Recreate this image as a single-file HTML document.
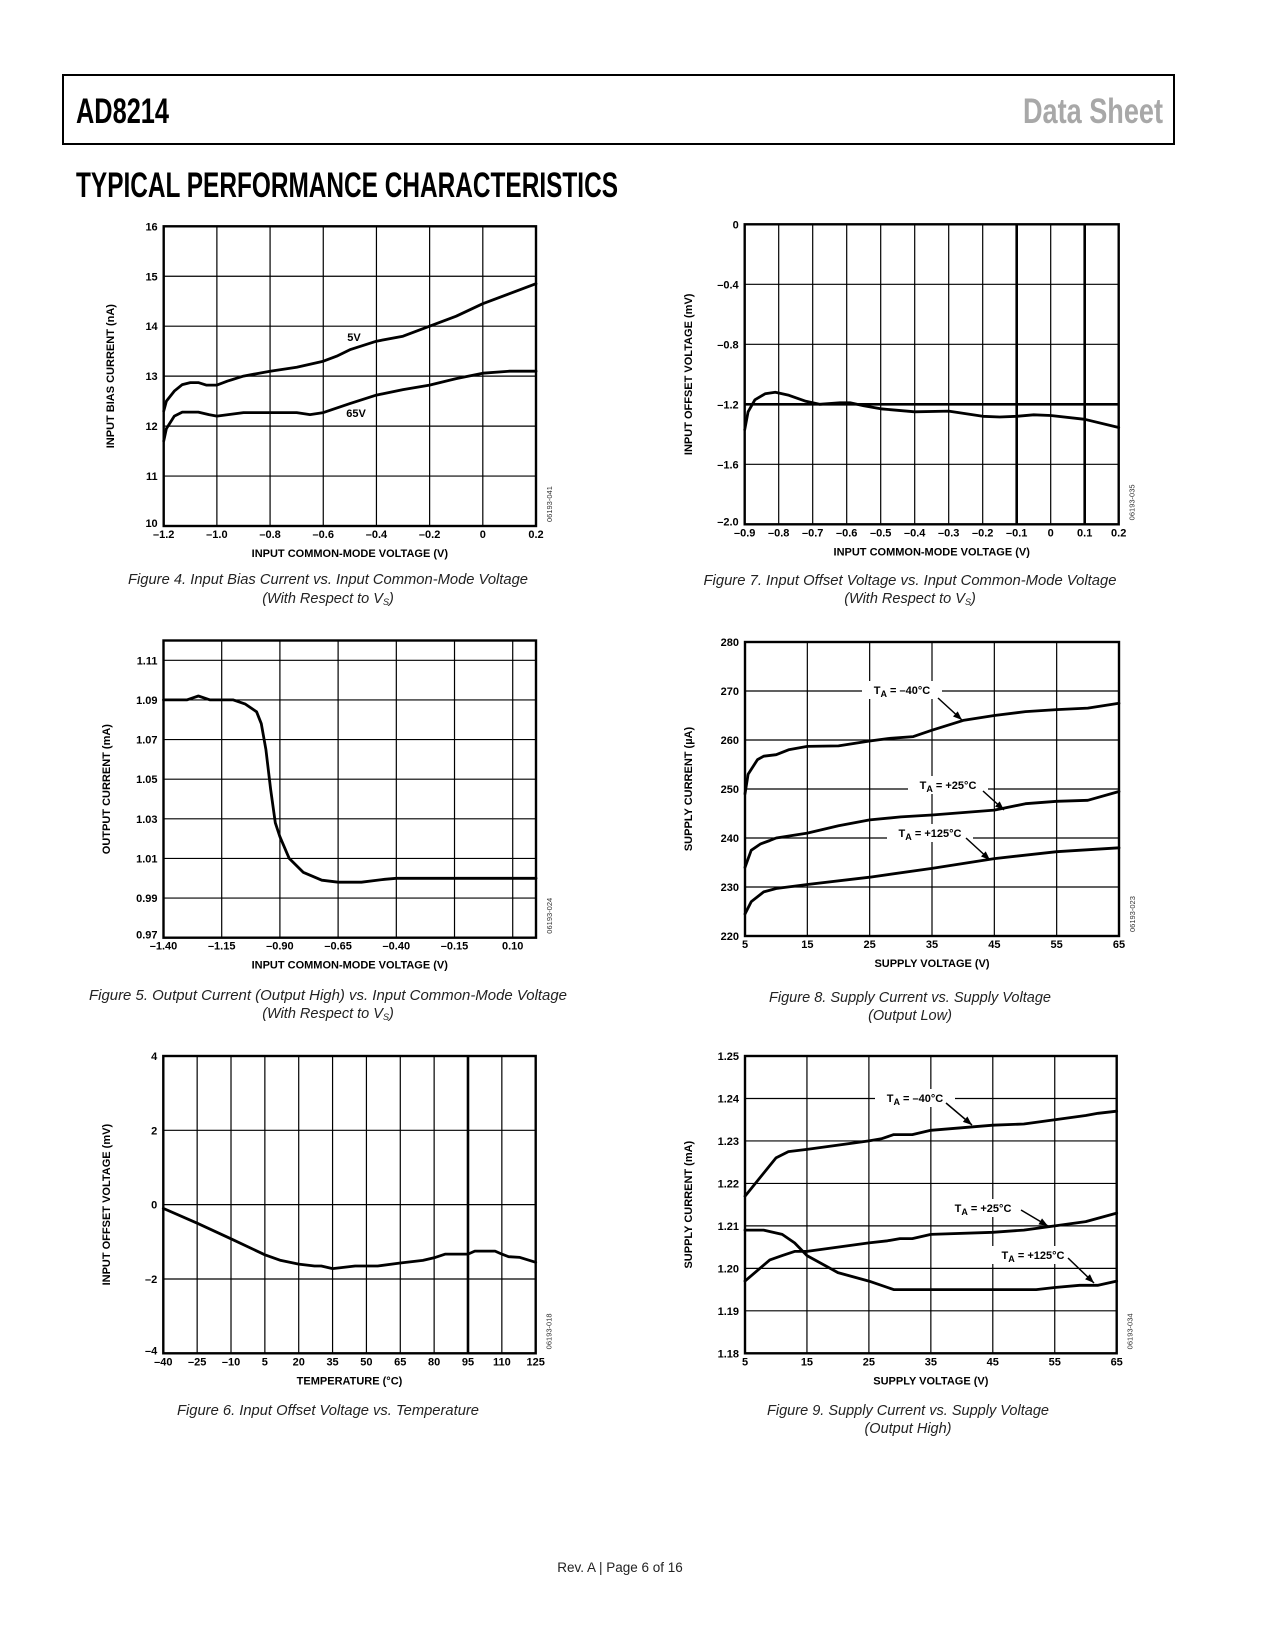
<!DOCTYPE html>
<html><head><meta charset="utf-8"><style>
html,body{margin:0;padding:0;background:#fff;}
svg{display:block;}
.tk{font-family:"Liberation Sans",Arial,sans-serif;font-weight:bold;font-size:11px;fill:#000;}
.cap{font-family:"Liberation Sans",Arial,sans-serif;font-style:italic;font-size:14.5px;fill:#222;}
.hd{font-family:"Liberation Sans Narrow","Liberation Sans",Arial,sans-serif;font-weight:bold;font-size:35px;}
</style></head><body>
<svg id="page" width="1275" height="1650" viewBox="0 0 1275 1650" xmlns="http://www.w3.org/2000/svg">
<rect x="63" y="75" width="1111" height="69" fill="none" stroke="#000" stroke-width="2"/>
<text class="hd" x="76" y="123" textLength="93" lengthAdjust="spacingAndGlyphs">AD8214</text>
<text class="hd" x="1163" y="123" text-anchor="end" fill="#a8a8a8" textLength="140" lengthAdjust="spacingAndGlyphs">Data Sheet</text>
<text class="hd" x="76" y="197" textLength="542" lengthAdjust="spacingAndGlyphs">TYPICAL PERFORMANCE CHARACTERISTICS</text>
<text class="cap" x="328" y="584" text-anchor="middle" textLength="400" lengthAdjust="spacingAndGlyphs">Figure 4. Input Bias Current vs. Input Common-Mode Voltage</text>
<text class="cap" x="328" y="603" text-anchor="middle">(With Respect to V<tspan font-size="9" dy="2">S</tspan><tspan dy="-2">)</tspan></text>
<text class="cap" x="910" y="585" text-anchor="middle" textLength="413" lengthAdjust="spacingAndGlyphs">Figure 7. Input Offset Voltage vs. Input Common-Mode Voltage</text>
<text class="cap" x="910" y="603" text-anchor="middle">(With Respect to V<tspan font-size="9" dy="2">S</tspan><tspan dy="-2">)</tspan></text>
<text class="cap" x="328" y="1000" text-anchor="middle" textLength="478" lengthAdjust="spacingAndGlyphs">Figure 5. Output Current (Output High) vs. Input Common-Mode Voltage</text>
<text class="cap" x="328" y="1018" text-anchor="middle">(With Respect to V<tspan font-size="9" dy="2">S</tspan><tspan dy="-2">)</tspan></text>
<text class="cap" x="910" y="1002" text-anchor="middle" textLength="282" lengthAdjust="spacingAndGlyphs">Figure 8. Supply Current vs. Supply Voltage</text>
<text class="cap" x="910" y="1020" text-anchor="middle">(Output Low)</text>
<text class="cap" x="328" y="1415" text-anchor="middle" textLength="302" lengthAdjust="spacingAndGlyphs">Figure 6. Input Offset Voltage vs. Temperature</text>
<text class="cap" x="908" y="1415" text-anchor="middle" textLength="282" lengthAdjust="spacingAndGlyphs">Figure 9. Supply Current vs. Supply Voltage</text>
<text class="cap" x="908" y="1433" text-anchor="middle">(Output High)</text>
<text x="620" y="1572" text-anchor="middle" font-family="Liberation Sans, Arial, sans-serif" font-size="13.5" fill="#222">Rev. A | Page 6 of 16</text>
</svg>
<script>
// Figure 4 data
const fig4X5V = [-1.2,-1.19,-1.16,-1.13,-1.1,-1.07,-1.04,-1.0,-0.96,-0.9,-0.8,-0.7,-0.6,-0.55,-0.5,-0.4,-0.3,-0.2,-0.1,0,0.1,0.2];
const fig4Y5V = [12.3,12.5,12.7,12.83,12.87,12.87,12.82,12.82,12.9,13.0,13.1,13.18,13.3,13.4,13.53,13.7,13.8,14.0,14.2,14.45,14.65,14.85];
const fig4X65V = [-1.2,-1.19,-1.16,-1.13,-1.07,-1.03,-1.0,-0.9,-0.7,-0.65,-0.6,-0.5,-0.4,-0.3,-0.2,-0.1,0,0.1,0.2];
const fig4Y65V = [11.7,11.95,12.2,12.28,12.28,12.23,12.2,12.27,12.27,12.23,12.27,12.45,12.62,12.73,12.82,12.95,13.06,13.1,13.1];
const fig4XTicks = [-1.2,-1.0,-0.8,-0.6,-0.4,-0.2,0,0.2];
const fig4XLabels = ["–1.2","–1.0","–0.8","–0.6","–0.4","–0.2","0","0.2"];
const fig4YTicks = [10,11,12,13,14,15,16];
const fig4YLabels = ["10","11","12","13","14","15","16"];
// Figure 5 data
const fig5X = [-1.4,-1.3,-1.25,-1.2,-1.1,-1.05,-1.0,-0.98,-0.96,-0.94,-0.92,-0.9,-0.86,-0.8,-0.72,-0.65,-0.55,-0.45,-0.4,0.2];
const fig5Y = [1.09,1.09,1.092,1.09,1.09,1.088,1.084,1.078,1.065,1.045,1.028,1.021,1.01,1.003,0.999,0.998,0.998,0.9995,1.0,1.0];
const fig5XTicks = [-1.4,-1.15,-0.9,-0.65,-0.4,-0.15,0.1];
const fig5XLabels = ["–1.40","–1.15","–0.90","–0.65","–0.40","–0.15","0.10"];
const fig5YTicks = [0.97,0.99,1.01,1.03,1.05,1.07,1.09,1.11];
const fig5YLabels = ["0.97","0.99","1.01","1.03","1.05","1.07","1.09","1.11"];
// Figure 6 data
const fig6X = [-40,-25,-10,5,12,20,27,30,35,45,55,65,75,80,85,95,98,107,110,113,118,125];
const fig6Y = [-0.1,-0.5,-0.92,-1.35,-1.5,-1.6,-1.65,-1.65,-1.72,-1.65,-1.65,-1.57,-1.5,-1.43,-1.33,-1.33,-1.25,-1.25,-1.33,-1.4,-1.42,-1.55];
const fig6XTicks = [-40,-25,-10,5,20,35,50,65,80,95,110,125];
const fig6XLabels = ["–40","–25","–10","5","20","35","50","65","80","95","110","125"];
const fig6YTicks = [-4,-2,0,2,4];
const fig6YLabels = ["–4","–2","0","2","4"];
// Figure 7 data
const fig7X = [-0.9,-0.89,-0.87,-0.84,-0.81,-0.77,-0.72,-0.68,-0.62,-0.59,-0.55,-0.5,-0.4,-0.3,-0.2,-0.15,-0.1,-0.05,0,0.1,0.2];
const fig7Y = [-1.37,-1.25,-1.17,-1.13,-1.12,-1.14,-1.18,-1.2,-1.19,-1.19,-1.21,-1.23,-1.25,-1.245,-1.28,-1.285,-1.28,-1.27,-1.275,-1.3,-1.355];
const fig7XTicks = [-0.9,-0.8,-0.7,-0.6,-0.5,-0.4,-0.3,-0.2,-0.1,0,0.1,0.2];
const fig7XLabels = ["–0.9","–0.8","–0.7","–0.6","–0.5","–0.4","–0.3","–0.2","–0.1","0","0.1","0.2"];
const fig7YTicks = [-2.0,-1.6,-1.2,-0.8,-0.4,0];
const fig7YLabels = ["–2.0","–1.6","–1.2","–0.8","–0.4","0"];
// Figure 8 data
const fig8XM40 = [5,5.5,7,8,10,12,15,20,25,28,32,35,40,45,50,55,60,65];
const fig8YM40 = [249,253,256,256.7,257,258,258.7,258.8,259.8,260.3,260.7,262,264,265,265.8,266.2,266.5,267.5];
const fig8XP25 = [5,6,7.5,9,10,15,20,25,30,35,45,50,55,60,65];
const fig8YP25 = [234,237.5,238.8,239.5,240,241,242.5,243.7,244.3,244.7,245.7,247,247.5,247.7,249.5];
const fig8XP125 = [5,6,8,10,15,25,35,45,55,65];
const fig8YP125 = [224.5,227,229,229.7,230.5,232,233.8,235.8,237.2,238];
const fig8XTicks = [5,15,25,35,45,55,65];
const fig8XLabels = ["5","15","25","35","45","55","65"];
const fig8YTicks = [220,230,240,250,260,270,280];
const fig8YLabels = ["220","230","240","250","260","270","280"];
// Figure 9 data
const fig9XM40 = [5,10,12,15,25,27,29,32,35,45,50,55,60,62,65];
const fig9YM40 = [1.217,1.226,1.2275,1.228,1.230,1.2305,1.2315,1.2315,1.2325,1.2337,1.234,1.235,1.236,1.2365,1.237];
const fig9XP25 = [5,9,11,13,15,25,28,30,32,35,45,50,55,60,65];
const fig9YP25 = [1.197,1.202,1.203,1.204,1.204,1.206,1.2065,1.207,1.207,1.208,1.2085,1.209,1.210,1.211,1.213];
const fig9XP125 = [5,8,11,13,15,20,25,29,52,55,59,62,65];
const fig9YP125 = [1.209,1.209,1.208,1.206,1.203,1.199,1.197,1.195,1.195,1.1955,1.196,1.196,1.197];
const fig9XTicks = [5,15,25,35,45,55,65];
const fig9XLabels = ["5","15","25","35","45","55","65"];
const fig9YTicks = [1.18,1.19,1.20,1.21,1.22,1.23,1.24,1.25];
const fig9YLabels = ["1.18","1.19","1.20","1.21","1.22","1.23","1.24","1.25"];

const NS = "http://www.w3.org/2000/svg";
const page = document.getElementById("page");
function el(tag, attrs, parent) {
  const e = document.createElementNS(NS, tag);
  for (const k in attrs) e.setAttribute(k, attrs[k]);
  (parent || page).appendChild(e);
  return e;
}
function makeChart(o) {
  const g = el("g", {});
  
  
  const sx = v => o.L + (v - o.xmin) / (o.xmax - o.xmin) * (o.R - o.L);
  const sy = v => o.B - (v - o.ymin) / (o.ymax - o.ymin) * (o.B - o.T);
  o.xTicks.forEach((v, i) => {
    const thick = (o.thickX || []).indexOf(v) >= 0;
    const ln = el("line", {x1: sx(v), x2: sx(v), y1: o.T, y2: o.B, stroke: "#000", "stroke-width": thick ? 2.6 : 1.2}, g);
    
    
    const t = el("text", {x: sx(v), y: o.B + 12, "text-anchor": "middle", class: "tk"}, g);
    t.textContent = o.xLabels[i];
    
    
  });
  o.yTicks.forEach((v, i) => {
    const thick = (o.thickY || []).indexOf(v) >= 0;
    const ln = el("line", {x1: o.L, x2: o.R, y1: sy(v), y2: sy(v), stroke: "#000", "stroke-width": thick ? 2.6 : 1.2}, g);
    
    
    const off = (i === 0 && o.lowLabelUp) ? 1 : 4;
    const t = el("text", {x: o.L - 6, y: sy(v) + off, "text-anchor": "end", class: "tk"}, g);
    t.textContent = o.yLabels[i];
    
    
  });
  const bd = el("rect", {x: o.L, y: o.T, width: o.R - o.L, height: o.B - o.T, fill: "none", stroke: "#000", "stroke-width": 2.4}, g);
  
  
  const xt = el("text", {x: (o.L + o.R) / 2, y: o.B + 31, "text-anchor": "middle", class: "tk"}, g);
  xt.textContent = o.xTitle;
  
  
  const yc = (o.T + o.B) / 2;
  const yt = el("text", {x: o.yTitleX, y: yc, "text-anchor": "middle", class: "tk", transform: "rotate(-90 " + o.yTitleX + " " + yc + ")"}, g);
  yt.textContent = o.yTitle;
  
  
  const idx = o.R + 16;
  const id = el("text", {x: idx, y: o.B - 4, "font-family": "Liberation Sans, Arial, sans-serif", "font-size": "7.5", fill: "#333", transform: "rotate(-90 " + idx + " " + (o.B - 4) + ")"}, g);
  id.textContent = o.code;
  
  
  return {g, sx, sy};
}
function drawSeries(ch, xs, ys, name) {
  const d = xs.map((x, i) => (i ? "L" : "M") + ch.sx(x).toFixed(1) + "," + ch.sy(ys[i]).toFixed(1)).join(" ");
  const p = el("path", {d: d, fill: "none", stroke: "#000", "stroke-width": 2.8, "stroke-linejoin": "round", "stroke-linecap": "round"}, ch.g);
  
  
}
function tempLabel(ch, cx, cy, txt, w, ax1, ay1, ax2, ay2, name) {
  const r = el("rect", {x: cx - w / 2, y: cy - 9, width: w, height: 18, fill: "#fff"}, ch.g);
  
  
  const t = el("text", {x: cx, y: cy + 4, "text-anchor": "middle", class: "tk"}, ch.g);
  
  
  t.appendChild(document.createTextNode("T"));
  const s = el("tspan", {"font-size": "9", dy: "3"}, t);
  s.textContent = "A";
  const s2 = el("tspan", {dy: "-3"}, t);
  s2.textContent = " = " + txt;
  const ln = el("line", {x1: ax1, y1: ay1, x2: ax2, y2: ay2, stroke: "#000", "stroke-width": 1.5}, ch.g);
  
  
  const a = Math.atan2(ay2 - ay1, ax2 - ax1), L = 9, W = 3.5;
  const bx = ax2 - L * Math.cos(a), by = ay2 - L * Math.sin(a);
  const hd = el("polygon", {points: ax2 + "," + ay2 + " " + (bx - W * Math.sin(a)) + "," + (by + W * Math.cos(a)) + " " + (bx + W * Math.sin(a)) + "," + (by - W * Math.cos(a)), fill: "#000"}, ch.g);
  
  
}

// Fig 4
const c4 = makeChart({name: "figure-4-chart", L: 163.7, R: 536, T: 226.3, B: 526, xmin: -1.2, xmax: 0.2, ymin: 10, ymax: 16,
  xTicks: fig4XTicks, xLabels: fig4XLabels, yTicks: fig4YTicks, yLabels: fig4YLabels, lowLabelUp: true,
  xTitle: "INPUT COMMON-MODE VOLTAGE (V)", yTitle: "INPUT BIAS CURRENT (nA)", yTitleX: 114, code: "06193-041"});
drawSeries(c4, fig4X5V, fig4Y5V, "series-5v");
drawSeries(c4, fig4X65V, fig4Y65V, "series-65v");
const l5 = el("text", {x: 354, y: 341, "text-anchor": "middle", class: "tk"}, c4.g);
l5.textContent = "5V";


const l65 = el("text", {x: 356, y: 417, "text-anchor": "middle", class: "tk"}, c4.g);
l65.textContent = "65V";



// Fig 5
const c5 = makeChart({name: "figure-5-chart", L: 163.5, R: 536, T: 640.5, B: 937.7, xmin: -1.4, xmax: 0.2, ymin: 0.97, ymax: 1.12,
  xTicks: fig5XTicks, xLabels: fig5XLabels, yTicks: fig5YTicks, yLabels: fig5YLabels, lowLabelUp: true,
  xTitle: "INPUT COMMON-MODE VOLTAGE (V)", yTitle: "OUTPUT CURRENT (mA)", yTitleX: 110, code: "06193-024"});
drawSeries(c5, fig5X, fig5Y, "output-current-series");

// Fig 6
const c6 = makeChart({name: "figure-6-chart", L: 163.3, R: 535.7, T: 1056, B: 1353.3, xmin: -40, xmax: 125, ymin: -4, ymax: 4,
  xTicks: fig6XTicks, xLabels: fig6XLabels, yTicks: fig6YTicks, yLabels: fig6YLabels, thickX: [95], lowLabelUp: true,
  xTitle: "TEMPERATURE (°C)", yTitle: "INPUT OFFSET VOLTAGE (mV)", yTitleX: 110, code: "06193-018"});
drawSeries(c6, fig6X, fig6Y, "offset-vs-temp-series");

// Fig 7
const c7 = makeChart({name: "figure-7-chart", L: 744.7, R: 1118.7, T: 224.3, B: 524.3, xmin: -0.9, xmax: 0.2, ymin: -2.0, ymax: 0,
  xTicks: fig7XTicks, xLabels: fig7XLabels, yTicks: fig7YTicks, yLabels: fig7YLabels, thickX: [-0.1, 0.1], thickY: [-1.2], lowLabelUp: true,
  xTitle: "INPUT COMMON-MODE VOLTAGE (V)", yTitle: "INPUT OFFSET VOLTAGE (mV)", yTitleX: 692, code: "06193-035"});
drawSeries(c7, fig7X, fig7Y, "offset-vs-cm-series");

// Fig 8
const c8 = makeChart({name: "figure-8-chart", L: 745, R: 1119, T: 642, B: 936, xmin: 5, xmax: 65, ymin: 220, ymax: 280,
  xTicks: fig8XTicks, xLabels: fig8XLabels, yTicks: fig8YTicks, yLabels: fig8YLabels,
  xTitle: "SUPPLY VOLTAGE (V)", yTitle: "SUPPLY CURRENT (µA)", yTitleX: 692, code: "06193-023"});
drawSeries(c8, fig8XM40, fig8YM40, "series-minus-40c");
drawSeries(c8, fig8XP25, fig8YP25, "series-plus-25c");
drawSeries(c8, fig8XP125, fig8YP125, "series-plus-125c");
tempLabel(c8, 902, 690, "–40°C", 80, 938, 698, 962, 720, "label-minus-40c");
tempLabel(c8, 948, 785, "+25°C", 80, 983, 791, 1004, 810, "label-plus-25c");
tempLabel(c8, 930, 833, "+125°C", 86, 966, 838, 990, 860, "label-plus-125c");

// Fig 9
const c9 = makeChart({name: "figure-9-chart", L: 745, R: 1116.7, T: 1056, B: 1353.3, xmin: 5, xmax: 65, ymin: 1.18, ymax: 1.25,
  xTicks: fig9XTicks, xLabels: fig9XLabels, yTicks: fig9YTicks, yLabels: fig9YLabels,
  xTitle: "SUPPLY VOLTAGE (V)", yTitle: "SUPPLY CURRENT (mA)", yTitleX: 692, code: "06193-034"});
drawSeries(c9, fig9XM40, fig9YM40, "series-minus-40c");
drawSeries(c9, fig9XP25, fig9YP25, "series-plus-25c");
drawSeries(c9, fig9XP125, fig9YP125, "series-plus-125c");
tempLabel(c9, 915, 1098, "–40°C", 80, 946, 1103, 972, 1125, "label-minus-40c");
tempLabel(c9, 983, 1208, "+25°C", 80, 1021, 1210, 1048, 1226, "label-plus-25c");
tempLabel(c9, 1033, 1255, "+125°C", 86, 1068, 1258, 1094, 1283, "label-plus-125c");
</script>
</body></html>
